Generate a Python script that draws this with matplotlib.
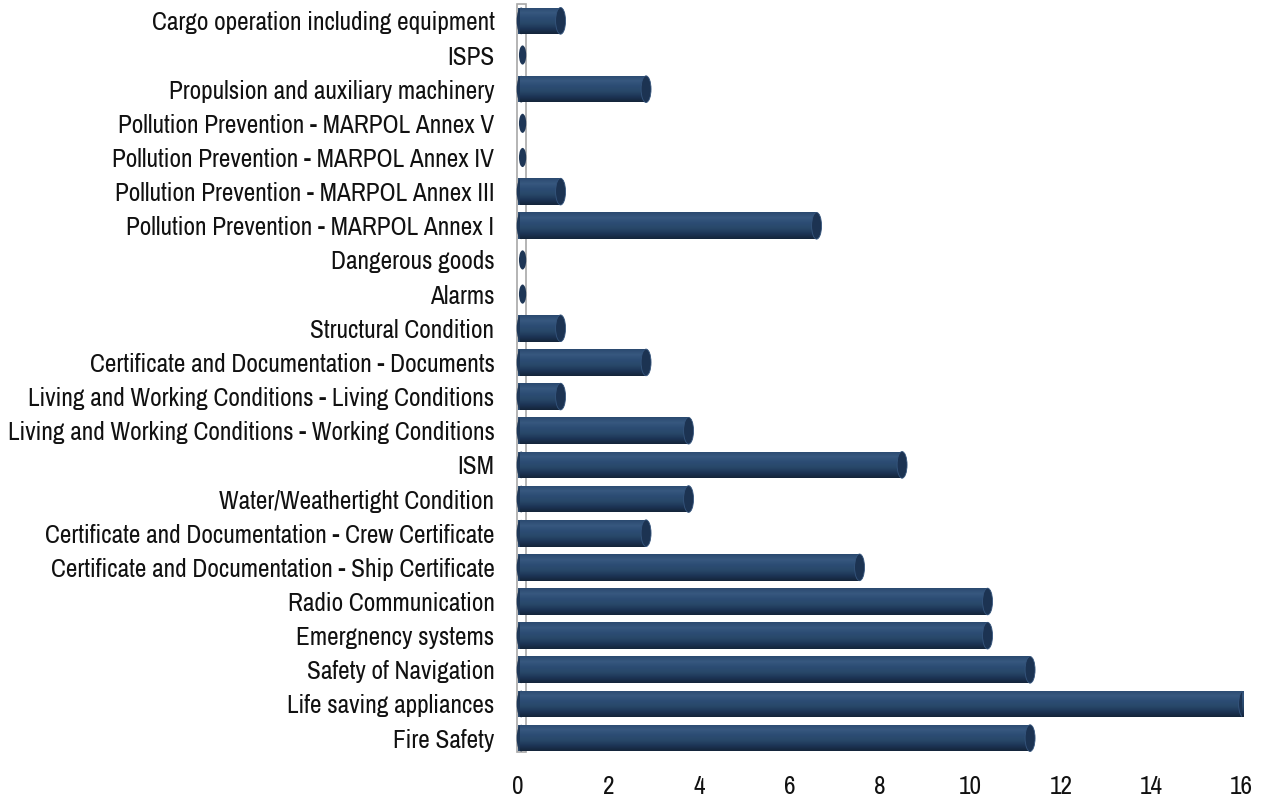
import numpy as np
import matplotlib
matplotlib.use("Agg")
import matplotlib.pyplot as plt
from matplotlib.patches import Ellipse, Rectangle
from matplotlib.colors import LinearSegmentedColormap
from matplotlib import font_manager
from matplotlib.font_manager import FontProperties
from matplotlib.textpath import TextPath

categories = [
    "Fire Safety",
    "Life saving appliances",
    "Safety of Navigation",
    "Emergnency systems",
    "Radio Communication",
    "Certificate and Documentation - Ship Certificate",
    "Certificate and Documentation - Crew Certificate",
    "Water/Weathertight Condition",
    "ISM",
    "Living and Working Conditions - Working Conditions",
    "Living and Working Conditions - Living Conditions",
    "Certificate and Documentation - Documents",
    "Structural Condition",
    "Alarms",
    "Dangerous goods",
    "Pollution Prevention - MARPOL Annex I",
    "Pollution Prevention - MARPOL Annex III",
    "Pollution Prevention - MARPOL Annex IV",
    "Pollution Prevention - MARPOL Annex V",
    "Propulsion and auxiliary machinery",
    "ISPS",
    "Cargo operation including equipment",
]
values = [11.32, 16.04, 11.32, 10.38, 10.38, 7.55, 2.83, 3.77, 8.49, 3.77,
          0.94, 2.83, 0.94, 0.0, 0.0, 6.60, 0.94, 0.0, 0.0, 2.83, 0.0, 0.94]
xticks = [0, 2, 4, 6, 8, 10, 12, 14, 16]

# pick a narrow font if one exists
fp = None
files = [f.fname for f in font_manager.fontManager.ttflist]
for key in ["LiberationSansNarrow-Regular", "SansNarrow-Regular", "Narrow",
            "DejaVuSansCondensed.ttf", "Condensed"]:
    hits = [f for f in files if key in f.split("/")[-1]
            and "Bold" not in f and "Italic" not in f and "Oblique" not in f]
    if hits:
        fp = FontProperties(fname=sorted(hits)[0])
        break
if fp is None:
    fp = FontProperties(family="DejaVu Sans", stretch="condensed")

# size so the longest label is ~485 px wide (as in the reference)
w = TextPath((0, 0), "Living and Working Conditions - Working Conditions",
             size=10, prop=fp).get_extents().width
fs = 10 * 485 / w * 72 / 100
fp.set_size(fs)

fig = plt.figure(figsize=(12.71, 8.0), dpi=100)
ax = fig.add_axes([0.4076, 0.056, 0.977 - 0.4076, 0.994 - 0.056])

y = np.arange(len(categories))
h = 0.78
ax.set_xlim(0, 16)
ax.set_ylim(-0.5, len(categories) - 0.53)

# back wall at x=0
ax.add_patch(Rectangle((-0.02, -0.42), 0.2, len(categories) - 0.1,
                       facecolor="white", edgecolor="#a8a8a8", lw=1.2,
                       clip_on=False, zorder=1))

cmap = LinearSegmentedColormap.from_list(
    "cyl", ["#14243a", "#1d3556", "#284869", "#2c4c74", "#37587f", "#2b4a70"])
grad = np.linspace(0, 1, 64).reshape(-1, 1)

bars = ax.barh(y, values, height=h, color="#2a4a70", zorder=2, linewidth=0)
for bar, v, yy in zip(bars, values, y):
    if v > 0:
        im = ax.imshow(grad, cmap=cmap, aspect="auto", origin="lower",
                       extent=(0.05, v, yy - h / 2, yy + h / 2), zorder=3,
                       interpolation="bilinear")
        im.set_clip_path(bar)
        ax.add_patch(Ellipse((0.07, yy), 0.2, h, facecolor="#1f3858",
                             edgecolor="none", zorder=2.5, clip_on=False))
        ax.add_patch(Ellipse((v, yy), 0.22, h, facecolor="#1c3352",
                             edgecolor="#35557d", lw=0.6, zorder=4))
    else:
        ax.add_patch(Ellipse((0.1, yy), 0.16, h * 0.72, facecolor="#1e3656",
                             edgecolor="none", zorder=4, clip_on=False))

ax.set_yticks(y)
ax.set_yticklabels(categories, fontproperties=fp, color="#111111")
ax.set_xticks(xticks)
ax.set_xticklabels([str(t) for t in xticks], fontproperties=fp,
                   color="#111111")
ax.tick_params(axis="both", length=0)
ax.tick_params(axis="y", pad=17)
ax.tick_params(axis="x", pad=14)
for s in ax.spines.values():
    s.set_visible(False)

fig.savefig("out.png", dpi=100, facecolor="white")
